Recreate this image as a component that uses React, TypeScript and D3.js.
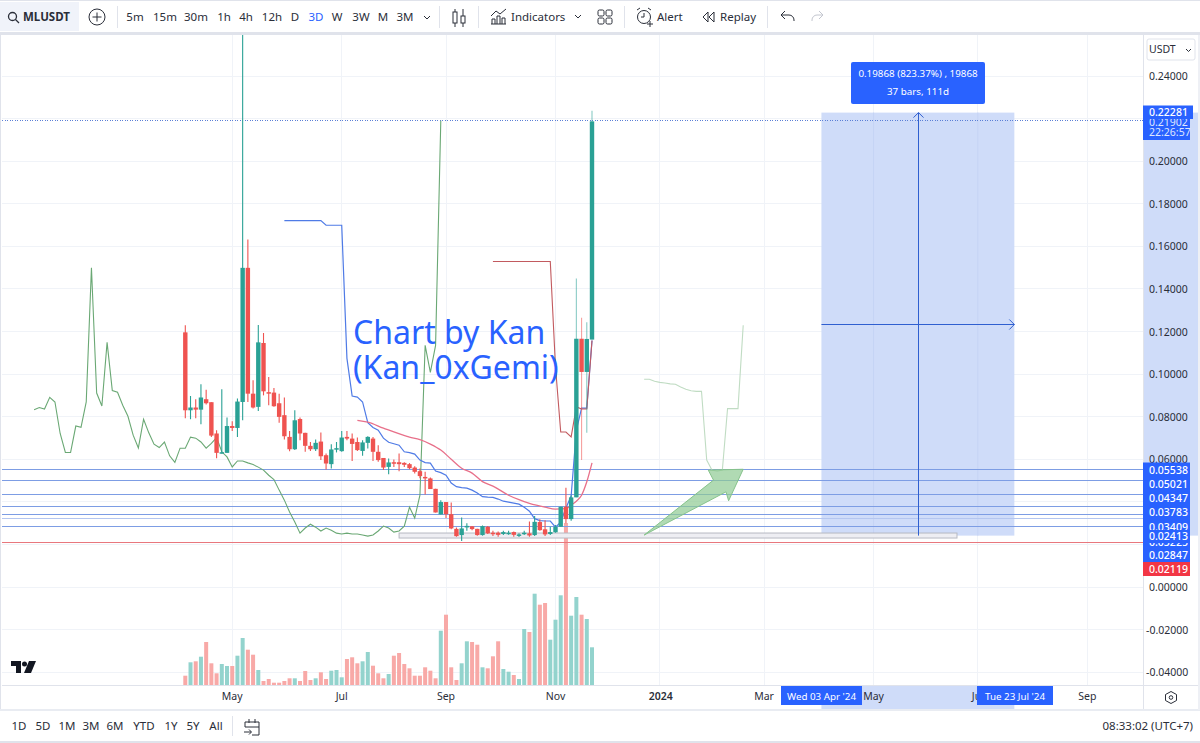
import React from "react";
import * as d3 from "d3";

const openP = [.1196,.0830,.0843,.0833,.0882,.0868,.0721,.0628,.0630,.0756,.0747,.0869,.1499,.0908,.0846,.1146,.0915,.0913,.0863,.0807,.0705,.0647,.0789,.0724,.0663,.0647,.0683,.0619,.0577,.0647,.0638,.0705,.0697,.0681,.0639,.0677,.0697,.0635,.0606,.0564,.0586,.0586,.0583,.0577,.0561,.0544,.0517,.0510,.0461,.0341,.0399,.0342,.0273,.0244,.0286,.0285,.0273,.0244,.0283,.0255,.0255,.0249,.0250,.0258,.0242,.0249,.0252,.0244,.0305,.0271,.0249,.0257,.0283,.0377,.0319,.0421,.1166,.1010,.1162];
const closeP = [.0830,.0843,.0833,.0890,.0863,.0711,.0630,.0633,.0756,.0747,.0871,.1499,.0908,.0843,.1149,.0919,.0910,.0849,.0799,.0708,.0647,.0783,.0721,.0663,.0647,.0677,.0614,.0580,.0646,.0652,.0702,.0697,.0672,.0643,.0679,.0705,.0635,.0596,.0561,.0585,.0582,.0577,.0574,.0558,.0541,.0521,.0510,.0460,.0350,.0399,.0342,.0275,.0239,.0275,.0287,.0272,.0244,.0286,.0252,.0250,.0245,.0258,.0255,.0245,.0247,.0255,.0242,.0306,.0267,.0247,.0258,.0283,.0377,.0319,.0421,.1166,.1010,.1165,.2187];
const highP = [.1229,.0897,.0882,.0952,.0927,.0868,.0736,.0929,.0796,.0779,.0885,.3000,.1632,.0971,.1230,.1193,.0986,.0935,.0908,.0890,.0733,.0830,.0796,.0724,.0681,.0693,.0726,.0627,.0671,.0681,.0733,.0733,.0721,.0702,.0689,.0708,.0705,.0666,.0606,.0604,.0599,.0627,.0586,.0582,.0567,.0557,.0541,.0514,.0461,.0408,.0399,.0397,.0280,.0327,.0299,.0287,.0273,.0289,.0286,.0264,.0261,.0264,.0264,.0261,.0252,.0264,.0308,.0333,.0318,.0314,.0283,.0291,.0377,.0466,.0431,.1449,.1265,.1244,.2237];
const lowP = [.0793,.0788,.0793,.0764,.0857,.0705,.0605,.0627,.0630,.0733,.0705,.0783,.0869,.0838,.0827,.0900,.0854,.0846,.0772,.0693,.0638,.0643,.0689,.0635,.0639,.0639,.0596,.0552,.0557,.0632,.0635,.0689,.0592,.0639,.0616,.0650,.0592,.0588,.0549,.0530,.0564,.0544,.0564,.0553,.0533,.0511,.0435,.0460,.0350,.0341,.0324,.0271,.0236,.0216,.0264,.0267,.0241,.0241,.0249,.0239,.0236,.0244,.0245,.0236,.0235,.0244,.0236,.0239,.0264,.0239,.0244,.0255,.0283,.0299,.0311,.0421,.0596,.0724,.1162];
const volumes = [9.3,22.7,23.7,28.3,43,21.7,11.7,21,19,19,29.3,47,35.3,30.3,15,4,6,2.3,2.3,4,6.7,6.7,4,14,5,6.7,12.7,6,14.3,15,7.7,26,27.7,21.7,23.7,33,19.3,11.7,6.7,11,29.3,32,21,16.7,9.3,9.3,17.7,14.3,6.7,54.3,70.3,17.7,5,21.7,43.7,43,40.3,17.7,16.7,28.7,43.7,16,13.3,10,6,56,53,91.3,80.3,82,45.3,65.3,89.7,162,69.3,88,70.3,66,37.7];

const greenStart = -29;
const greenLine = [.0833,.0843,.0836,.0891,.0869,.0721,.0632,.0632,.0756,.0750,.0869,.1499,.0911,.0850,.1149,.0923,.0915,.0854,.0802,.0713,.0653,.0788,.0724,.0671,.0655,.0681,.0616,.0585,.0652,.0652,.0704,.0699,.0681,.0652,.0675,.0702,.0635,.0611,.0564,.0592,.0592,.0583,.0575,.0563,.0549,.0525,.0505,.0455,.0408,.0352,.0305,.0253,.0277,.0295,.0281,.0263,.0277,.0267,.0253,.0249,.0253,.0249,.0249,.0244,.0239,.0244,.0263,.0286,.0277,.0258,.0263,.0286,.0375,.0324,.0431,.1135,.1008,.1135,.2190];
const paleStart = 88;
const paleLine = [.0976,.0976,.0966,.0961,.0958,.0954,.0952,.0939,.0929,.0922,.0919,.0919,.0596,.0549,.0544,.0549,.0838,.0838,.0838,.1229];
const blueStart = 19;
const blueLine = [.1721,.1721,.1721,.1721,.1721,.1721,.1721,.1721,.1699,.1699,.1699,.1699,.1074,.0897,.0892,.0869,.0772,.0749,.0736,.0699,.0680,.0673,.0666,.0635,.0631,.0624,.0596,.0584,.0582,.0545,.0537,.0525,.0488,.0471,.0467,.0464,.0455,.0441,.0424,.0422,.0421,.0413,.0403,.0399,.0394,.0389,.0375,.0356,.0321,.0312,.0310,.0310,.0281,.0305,.0371,.0427,.0736,.0840,.0840,.1158];
const redStart = 59;
const redLine = [.1529,.1529,.1529,.1529,.1529,.1529,.1529,.1529,.1529,.1529,.1529,.1529,.1033,.0728,.0728,.0705,.0846,.0836,.0836,.1158];
const maIdx = [33,35,38,43,45,47,49,51,53,55,57,59,62,64,66,69,71,73,74,75,76,77,78];
const maVal = [.0783,.0774,.0746,.0704,.0692,.0671,.0643,.0600,.0558,.0535,.0495,.0474,.0431,.0410,.0393,.0375,.0366,.0368,.0385,.0403,.0431,.0494,.0583];

const levels = [.05538,.05021,.04347,.03783,.03409,.03225,.02847];
const levelLabels = ["0.05538","0.05021","0.04347","0.03783","0.03409","0.03225","0.02847"];
const stackRows = [0,1,2,3,4,5.05,6];
const redLevel = .02119;
const lastPrice = .21902;
const boxTop = .22281, boxBottom = .02413, boxFrom = 122, boxTo = 159;
const rangeFrom = 41, rangeTo = 148, rangeTop = .02535, rangeBottom = .0230;
const arrowIdx = [88,101.3,100.3,107,104.2,103.7];
const arrowVal = [.0244,.0502,.0549,.0553,.0405,.0447];

const priceTicks = [.24,.2,.18,.16,.14,.12,.1,.08,.06,0,-.02,-.04];
const gridTicks = [.24,.22,.2,.18,.16,.14,.12,.1,.08,.06,.04,.02,0,-.02,-.04];
const monthIdx = [9,30,50,71,91,111,132,152,173];
const monthNames = ["May","Jul","Sep","Nov","2024","Mar","May","Jul","Sep"];
const intervals: [string, number][] = [["5m",135],["15m",165],["30m",196],["1h",224],["4h",246],["12h",272],["D",295],["3D",316],["W",337],["3W",361],["M",383],["3M",405]];
const ranges: [string, number][] = [["1D",19],["5D",43],["1M",67],["3M",91],["6M",115],["YTD",144],["1Y",171],["5Y",193],["All",216]];

const FONT = "'Noto Sans', sans-serif";
const BLUE = "#2962ff";
const BORDER = "#e0e3eb";
const INK = "#2a2e39";

const x = d3.scaleLinear().domain([0, 78]).range([185.3, 592]);
const y = d3.scaleLinear().domain([0, .24]).range([587, 76]);
const v = d3.scaleLinear().domain([0, 160]).range([685, 525]);

function seriesPath(start: number, vals: number[]) {
  return d3.line<number>().x((_, i) => x(start + i)).y(d => y(d))(vals) as string;
}
const maPath = d3.line<number>().x((_, i) => x(maIdx[i])).y(d => y(d)).curve(d3.curveMonotoneX)(maVal) as string;
const arrowPath = d3.line<number>().x((_, i) => x(arrowIdx[i])).y(d => y(d))(arrowVal) + "Z";

const T = (p: any) => <text fontFamily={FONT} fill={INK} fontSize={12} {...p} />;

export default function App() {
  const boxL = x(boxFrom), boxR = x(boxTo), boxT = y(boxTop), boxB = y(boxBottom);
  const boxMx = Math.round((boxL + boxR) / 2) + .5, boxMy = Math.round((boxT + boxB) / 2) + .5;
  return (
    <svg width={1200} height={743} viewBox="0 0 1200 743" style={{ position: "absolute", left: 0, top: 0, background: "#fff" }}>
      <defs>
        <clipPath id="plot"><rect x={2} y={35} width={1141} height={650} /></clipPath>
      </defs>
      <rect width={1200} height={743} fill="#fff" />

      {/* frame */}
      <rect x={0} y={0} width={1200} height={1} fill={BORDER} />
      <rect x={0} y={32} width={1200} height={3} fill={BORDER} />
      <rect x={0} y={35} width={1} height={675} fill={BORDER} />
      <rect x={0} y={709} width={1200} height={2} fill="#e9ecf2" />
      <rect x={0} y={741} width={1200} height={2} fill={BORDER} />
      <rect x={1198} y={35} width={2} height={675} fill="#eef0f5" />

      {/* toolbar */}
      <rect x={0} y={2} width={79} height={29} fill="#f0f3fa" />
      <g fill="none" stroke={INK} strokeWidth={1.3}>
        <circle cx={12.5} cy={16.5} r={4} />
        <path d="M15.5 19.5 L19 23" />
        <circle cx={97} cy={17} r={8} strokeWidth={1} />
        <path d="M97 12.5V21.5M92.500 17H101.500" strokeWidth={1} />
      </g>
      <T x={23} y={20.500} fontWeight={700} fontSize={11.500}>MLUSDT</T>
      {intervals.map(([s, px]) => (
        <T key={s} x={px} y={20.500} textAnchor="middle" fontSize={11.500} fill={s === "3D" ? BLUE : INK}>{s}</T>
      ))}
      <path d="M424 16l3 3 3-3" fill="none" stroke={INK} />
      {[117, 439, 478, 624, 767].map(px => <rect key={px} x={px} y={6} width={1} height={22} fill={BORDER} />)}
      <g fill="none" stroke={INK} strokeWidth={1}>
        <path d="M455 9V27M463 9V27" />
        <rect x={453} y={12} width={4} height={11} fill="#fff" />
        <rect x={461} y={16} width={4} height={7} fill="#fff" />
        <path d="M491 24h15M492 24v-5h3v5M497 24v-8h3v8M502 24v-6h3v6M491 16l5-5 4 3 6-5" />
        <path d="M575 15l3 3 3-3" />
        <rect x={598} y={10} width={6} height={6} rx={1.500} />
        <rect x={606} y={10} width={6} height={6} rx={1.500} />
        <rect x={598} y={18} width={6} height={6} rx={1.500} />
        <rect x={606} y={18} width={6} height={6} rx={1.500} />
        <circle cx={644} cy={17} r={6.500} />
        <path d="M644 13v4h-3M637 10l3-2M651 10l-3-2M647 24h6M650 21v6" />
        <path d="M708 12l-5 5 5 5zM714 12l-5 5 5 5z" />
        <path d="M782 15h7a5 5 0 0 1 5 5v1M785 11l-4 4 4 4" />
        <path d="M823 15h-6a5 5 0 0 0-5 5v1M819 11l4 4-4 4" stroke="#c3c6cf" />
      </g>
      <T x={511} y={20.500} fontSize={11.500}>Indicators</T>
      <T x={657} y={20.500} fontSize={11.500}>Alert</T>
      <T x={720} y={20.500} fontSize={11.500}>Replay</T>

      {/* grid */}
      <g shapeRendering="crispEdges">
        {gridTicks.map(t => <line key={t} x1={2} x2={1143} y1={y(t)} y2={y(t)} stroke="#f0f3f8" />)}
        {monthIdx.map((m, i) => <line key={i} x1={x(m)} x2={x(m)} y1={35} y2={685} stroke="#f0f3f8" />)}
      </g>

      <g clipPath="url(#plot)">
        {/* position box */}
        <rect x={boxL} y={boxT} width={boxR - boxL} height={boxB - boxT} fill="#cfdcf9" />
        {monthIdx.filter(m => x(m) > boxL && x(m) < boxR).map(m => <line key={m} x1={x(m)} x2={x(m)} y1={boxT} y2={boxB} stroke="#c5d3f5" />)}

        {/* volume */}
        {volumes.map((d, i) => (
          <rect key={i} x={x(i) - 2} y={v(d)} width={4} height={685 - v(d)} fill={closeP[i] >= openP[i] ? "#93d3cd" : "#f8a9a7"} />
        ))}

        {/* levels */}
        <g shapeRendering="crispEdges">
          {levels.map((l, i) => <line key={i} x1={2} x2={1143} y1={y(l)} y2={y(l)} stroke={i === 5 ? "#b4c6f0" : "#7d9de4"} />)}
          <rect x={2} y={Math.round(y(redLevel))} width={1141} height={1} fill="#e8777d" />
          <line x1={2} x2={1143} y1={y(lastPrice)} y2={y(lastPrice)} stroke="#5b7fd6" strokeDasharray="1 1.500" />
        </g>

        <rect x={x(rangeFrom)} y={y(rangeTop)} width={x(rangeTo) - x(rangeFrom)} height={y(rangeBottom) - y(rangeTop)} fill="#eeeef3" stroke="#b7b9c2" />

        {/* box arrows */}
        <g fill="none" stroke="#2f5fd0" strokeWidth={1}>
          <path d={`M${boxMx} ${boxB}V${boxT}M${boxMx - 5} ${boxT + 5}L${boxMx} ${boxT}L${boxMx + 5} ${boxT + 5}`} />
          <path d={`M${boxL} ${boxMy}H${boxR}M${boxR - 5} ${boxMy - 5}L${boxR} ${boxMy}L${boxR - 5} ${boxMy + 5}`} />
        </g>

        {/* overlays */}
        <g fill="none">
          <path d={seriesPath(greenStart, greenLine)} stroke="#6aa874" strokeWidth={1.100} />
          <path d={seriesPath(paleStart, paleLine)} stroke="#c0dcc3" strokeWidth={1.100} />
          <path d={seriesPath(blueStart, blueLine)} stroke="#4f7be6" strokeWidth={1.200} />
          <path d={maPath} stroke="#e8708a" strokeWidth={1.300} />
          <path d={seriesPath(redStart, redLine)} stroke="#c25a5f" strokeWidth={1.100} />
        </g>
        <path d={arrowPath} fill="#8fcb93" fillOpacity={.7} stroke="#86c38b" />

        {/* candles */}
        {openP.map((o, i) => {
          const c = closeP[i], up = c >= o;
          const col = up ? "#2aa195" : "#ef5350";
          const top = y(Math.max(o, c)), bot = y(Math.min(o, c));
          return (
            <g key={i}>
              <line x1={x(i)} x2={x(i)} y1={y(highP[i])} y2={y(lowP[i])} stroke={col} strokeOpacity={i >= 75 ? .55 : 1} strokeWidth={1.100} />
              <rect x={x(i) - 2.200} y={top} width={4.400} height={Math.max(bot - top, 1.500)} fill={col} />
            </g>
          );
        })}

        <text x={353} y={344} fontFamily={FONT} fontSize={32} fill={BLUE}>Chart by Kan</text>
        <text x={353} y={379} fontFamily={FONT} fontSize={32} fill={BLUE}>(Kan_0xGemi)</text>
      </g>

      {/* tooltip */}
      <rect x={851} y={62} width={134} height={42} rx={2} fill={BLUE} />
      <T x={918} y={77} textAnchor="middle" fill="#fff" fontSize={9.800}>0.19868 (823.37%) , 19868</T>
      <T x={918} y={95} textAnchor="middle" fill="#fff" fontSize={9.800}>37 bars, 111d</T>

      {/* TV logo */}
      <g fill="#131722">
        <path d="M11 661h10v12h-5v-7h-5z" />
        <circle cx={24.500} cy={664} r={2.500} />
        <path d="M29 661h7l-5 12h-7z" />
      </g>

      {/* price axis */}
      <rect x={1143} y={35} width={1} height={674} fill={BORDER} />
      <rect x={1144} y={boxT} width={54} height={boxB - boxT} fill="#cfdcf9" />
      <rect x={1147} y={39} width={48} height={21} rx={2} fill="#fff" stroke={BORDER} />
      <T x={1149} y={53} fontSize={10.500}>USDT</T>
      <path d="M1186 49l2.500 2.500 2.500-2.500" fill="none" stroke={INK} />
      {priceTicks.map(t => (
        <T key={t} x={t < 0 ? 1146 : 1149} y={y(t) + 4} fontSize={10.500}>{t.toFixed(5)}</T>
      ))}
      {/* stacked level labels */}
      <rect x={1143} y={462.500} width={47} height={100} fill={BLUE} />
      {levelLabels.map((s, i) => (
        <T key={s} x={1149} y={473.500 + stackRows[i] * 14.300} fill="#fff" fontSize={10.500} fontWeight={500}>{s}</T>
      ))}
      <rect x={1143} y={530} width={47} height={13} fill={BLUE} />
      <T x={1149} y={540} fill="#fff" fontSize={10.500} fontWeight={500}>{boxBottom.toFixed(5)}</T>
      <rect x={1143} y={562} width={47} height={14} fill="#f23645" />
      <T x={1149} y={573} fill="#fff" fontSize={10.500} fontWeight={500}>{redLevel.toFixed(5)}</T>
      {/* last price labels */}
      <rect x={1143} y={113} width={47} height={27} fill={BLUE} />
      <T x={1149} y={125.500} fill="#dfe7ff" fontSize={10.500}>{lastPrice.toFixed(5)}</T>
      <T x={1149} y={136} fill="#dfe7ff" fontSize={10.500}>22:26:57</T>
      <rect x={1143} y={105.500} width={50} height={13.500} fill={BLUE} />
      <T x={1149} y={116} fill="#fff" fontSize={10.500} fontWeight={500}>{boxTop.toFixed(5)}</T>

      {/* time axis */}
      <rect x={2} y={685} width={1196} height={1} fill={BORDER} />
      <rect x={boxL} y={686} width={boxR - boxL} height={23} fill="#cfdcf9" />
      {monthIdx.map((m, i) => (
        <T key={i} x={x(m) + (monthNames[i] === "2024" ? 1 : 0)} y={700} textAnchor="middle" fontSize={10.500} fontWeight={monthNames[i] === "2024" ? 600 : 400}>{monthNames[i]}</T>
      ))}
      <rect x={781} y={686} width={81} height={19} fill={BLUE} />
      <T x={821.500} y={700} textAnchor="middle" fill="#fff" fontSize={9.800}>Wed 03 Apr '24</T>
      <rect x={977} y={686} width={76} height={19} fill={BLUE} />
      <T x={1015} y={700} textAnchor="middle" fill="#fff" fontSize={9.800}>Tue 23 Jul '24</T>
      <g fill="none" stroke={INK}>
        <path d="M1171 691.500l5.500 3v6l-5.500 3-5.500-3v-6z" />
        <circle cx={1171} cy={697.500} r={1.800} />
      </g>

      {/* bottom bar */}
      {ranges.map(([s, px]) => <T key={s} x={px} y={730} textAnchor="middle" fontSize={11.500}>{s}</T>)}
      <rect x={232} y={716} width={1} height={20} fill={BORDER} />
      <g fill="none" stroke={INK} strokeWidth={1}>
        <path d="M248 722h11v13h-7M245 722v5M245 722h3M249 719v4M255 719v4M245 727h14M244 732h7M249 729.500l2.500 2.500-2.500 2.500" />
      </g>
      <T x={1193} y={730} textAnchor="end" fontSize={11.500}>08:33:02 (UTC+7)</T>
    </svg>
  );
}
